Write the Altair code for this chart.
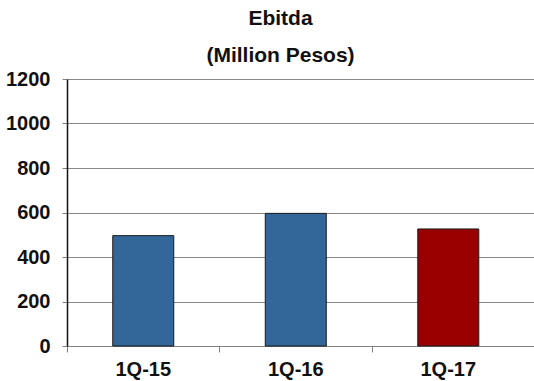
import altair as alt
import pandas as pd

# Quarterly EBITDA, million pesos
quarters = ["1Q-15", "1Q-16", "1Q-17"]
ebitda = [496, 596, 526]
bar_colors = ["#336699", "#336699", "#990000"]
y_ticks = [0, 200, 400, 600, 800, 1000, 1200]

df = pd.DataFrame({"quarter": quarters, "ebitda": ebitda})

FONT = "Liberation Sans"

bars = (
    alt.Chart(df)
    .mark_bar(width=alt.RelativeBandSize(0.4), stroke="#1a1a1a", strokeWidth=1)
    .encode(
        x=alt.X(
            "quarter:N",
            sort=quarters,
            scale=alt.Scale(paddingInner=0, paddingOuter=0.031, align=0),
            axis=alt.Axis(
                title=None,
                labelAngle=0,
                bandPosition=0,
                tickExtra=False,
                tickSize=6,
                tickColor="#808080",
                domainColor="#808080",
                labelPadding=7,
                labelFontSize=20,
                labelFontWeight="bold",
                labelFont=FONT,
                labelColor="#111111",
                labelAlign="center",
                grid=False,
            ),
        ),
        y=alt.Y(
            "ebitda:Q",
            scale=alt.Scale(domain=[0, 1200], nice=False),
            axis=alt.Axis(
                title=None,
                values=y_ticks,
                format="d",
                tickSize=5,
                tickColor="#808080",
                domainColor="#111111",
                domainWidth=1.5,
                labelPadding=12,
                labelFontSize=20,
                labelFontWeight="bold",
                labelFont=FONT,
                labelColor="#111111",
                grid=True,
                gridColor="#888888",
                gridWidth=1,
            ),
        ),
        color=alt.Color(
            "quarter:N",
            scale=alt.Scale(domain=quarters, range=bar_colors),
            legend=None,
        ),
    )
)

chart = (
    bars.properties(
        width=467,
        height=267,
        title=alt.TitleParams(
            text=["Ebitda", "(Million Pesos)"],
            font=FONT,
            fontSize=21,
            fontWeight="bold",
            color="#111111",
            anchor="middle",
            frame="group",
            dx=-20,
            offset=-14,
            baseline="alphabetic",
            lineHeight=37,
        ),
        autosize=alt.AutoSizeParams(type="none"),
        padding={"left": 67, "top": 79, "right": 0, "bottom": 35},
    )
    .configure_view(stroke=None)
    .configure(background="white")
)

chart.save("out.html", embed_options={"renderer": "svg", "actions": False})
